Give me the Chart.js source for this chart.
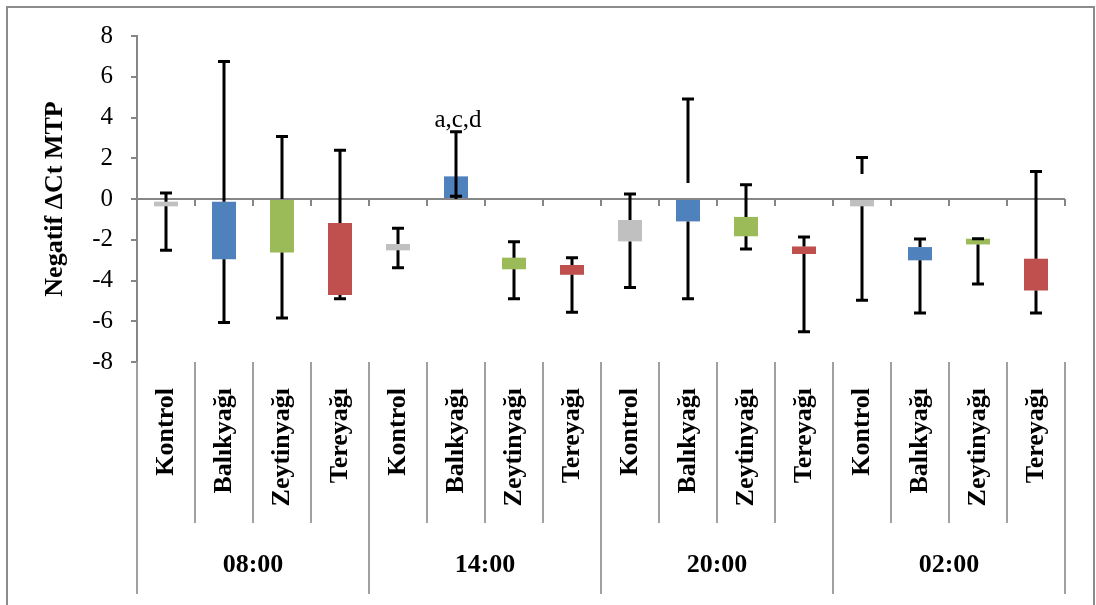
<!DOCTYPE html>
<html>
<head>
<meta charset="utf-8">
<script src="https://cdn.jsdelivr.net/npm/chart.js@4.4.0/dist/chart.umd.min.js"></script>
<style>
html, body { margin: 0; padding: 0; background: #fff; overflow: hidden; }
#wrap { position: relative; width: 1096px; height: 605px; }
#frame { position: absolute; left: 6px; top: 6px; width: 1089px; height: 630px; border: 2px solid #8c8c8c; box-sizing: border-box; }
#c { position: absolute; left: 0; top: 0; }
</style>
</head>
<body>
<div id="wrap">
  <div id="frame"></div>
  <canvas id="c" width="1096" height="605"></canvas>
</div>
<script>
// time points and treatments
var groups = ["08:00", "14:00", "20:00", "02:00"];
var treatments = ["Kontrol", "Balıkyağı", "Zeytinyağı", "Tereyağı"];
var categories = [
	"Kontrol", "Balıkyağı", "Zeytinyağı", "Tereyağı",
	"Kontrol", "Balıkyağı", "Zeytinyağı", "Tereyağı",
	"Kontrol", "Balıkyağı", "Zeytinyağı", "Tereyağı",
	"Kontrol", "Balıkyağı", "Zeytinyağı", "Tereyağı"
];

// box bottom / top
var barLow  = [-0.36, -2.96, -2.62, -4.71,  -2.52, 0.00, -3.45, -3.72,  -2.08, -1.10, -1.83, -2.70,  -0.36, -3.01, -2.23, -4.49];
var barHigh = [-0.13, -0.13,  0.00, -1.18,  -2.21, 1.11, -2.88, -3.24,  -1.03,  0.00, -0.88, -2.33,   0.00, -2.36, -1.95, -2.93];

// whisker ends
var whiskerMax = [0.29, 6.75, 3.07, 2.39,  -1.44, 3.30, -2.10, -2.88,  0.24, 4.91,  0.70, -1.87,  2.04, -1.96, -1.95,  1.35];
var whiskerMin = [-2.52, -6.06, -5.84, -4.89,  -3.37, 0.13, -4.89, -5.56,  -4.34, -4.89, -2.46, -6.51,  -4.97, -5.60, -4.17, -5.60];
// where the upper whisker starts (null = top of the box)
var upperFrom = [null, null, null, null,  null, 0.13, null, null,  null, 0.78, null, null,  1.23, null, null, null];

// significance letters
var letters = ["", "", "", "",  "", "a,c,d", "", "",  "", "", "", "",  "", "", "", ""];

var treatmentColors = ["#c0c0c0", "#4f81bd", "#9bbb59", "#c0504d"];
var axisGray = "#868686";
var serif = "'Liberation Serif', 'Times New Roman', serif";

var boxPlugin = {
	id: "boxPlugin",
	beforeDatasetsDraw: function(chart) {
		var ctx = chart.ctx, x = chart.scales.x, y = chart.scales.y;
		var area = chart.chartArea;
		var y0 = y.getPixelForValue(0);
		var half = (x.getPixelForValue(1) - x.getPixelForValue(0)) / 2;
		ctx.save();
		ctx.strokeStyle = axisGray;
		ctx.lineWidth = 2;
		ctx.beginPath();
		ctx.moveTo(area.left, y0);
		ctx.lineTo(area.right, y0);
		for (var i = 0; i < categories.length; i++) {
			var bx = x.getPixelForValue(i) + half;
			ctx.moveTo(bx, y0);
			ctx.lineTo(bx, y0 + 7);
		}
		ctx.stroke();
		ctx.restore();
	},
	afterDatasetsDraw: function(chart) {
		var ctx = chart.ctx, x = chart.scales.x, y = chart.scales.y;
		ctx.save();
		ctx.strokeStyle = "#000";
		ctx.lineWidth = 3;
		for (var i = 0; i < categories.length; i++) {
			var px = x.getPixelForValue(i);
			var from = upperFrom[i] === null ? barHigh[i] : upperFrom[i];
			var top = y.getPixelForValue(whiskerMax[i]);
			var bot = y.getPixelForValue(whiskerMin[i]);
			ctx.beginPath();
			ctx.moveTo(px, y.getPixelForValue(from));
			ctx.lineTo(px, top);
			ctx.moveTo(px, y.getPixelForValue(barLow[i]));
			ctx.lineTo(px, bot);
			ctx.moveTo(px - 6, top);
			ctx.lineTo(px + 6, top);
			ctx.moveTo(px - 6, bot);
			ctx.lineTo(px + 6, bot);
			ctx.stroke();
			if (letters[i]) {
				ctx.fillStyle = "#000";
				ctx.font = "25px " + serif;
				ctx.textAlign = "center";
				ctx.textBaseline = "alphabetic";
				ctx.fillText(letters[i], px + 2, top - 5);
			}
		}
		ctx.restore();
	},
	afterDraw: function(chart) {
		var ctx = chart.ctx, x = chart.scales.x, x2 = chart.scales.x2;
		var area = chart.chartArea;
		var half = (x.getPixelForValue(1) - x.getPixelForValue(0)) / 2;
		ctx.save();
		ctx.strokeStyle = "#a0a0a0";
		ctx.lineWidth = 2;
		ctx.beginPath();
		for (var i = 0; i <= categories.length; i++) {
			var bx = x.getPixelForValue(i) - half;
			ctx.moveTo(bx, area.bottom);
			ctx.lineTo(bx, i % treatments.length === 0 ? x2.bottom : x.bottom);
		}
		ctx.stroke();
		ctx.restore();
	}
};

new Chart(document.getElementById("c"), {
	type: "bar",
	data: {
		labels: categories,
		datasets: [{
			label: "Negatif ΔCt MTP",
			data: barLow.map(function(v, i) { return [v, barHigh[i]]; }),
			backgroundColor: categories.map(function(c, i) { return treatmentColors[i % 4]; }),
			borderWidth: 0,
			barPercentage: 0.414,
			categoryPercentage: 1
		}]
	},
	options: {
		responsive: false,
		animation: false,
		layout: { padding: { top: 36, right: 31, bottom: 11, left: 0 } },
		plugins: { legend: { display: false }, tooltip: { enabled: false } },
		scales: {
			x: {
				type: "category",
				position: "bottom",
				offset: true,
				grid: { display: false, drawTicks: false, tickLength: 0 },
				border: { display: false },
				ticks: {
					autoSkip: false, minRotation: 90, maxRotation: 90,
					padding: 26, color: "#000",
					font: { family: serif, size: 26, weight: "bold" }
				},
				afterFit: function(s) { s.height = 161; }
			},
			x2: {
				type: "category",
				position: "bottom",
				labels: groups,
				offset: true,
				grid: { display: false, drawTicks: false, tickLength: 0 },
				border: { display: false },
				ticks: {
					maxRotation: 0, padding: 27, color: "#000",
					font: { family: serif, size: 26, weight: "bold" }
				},
				afterFit: function(s) { s.height = 71; }
			},
			y: {
				min: -8, max: 8,
				ticks: { stepSize: 2, padding: 18, color: "#000", font: { family: serif, size: 25 } },
				grid: { drawOnChartArea: false, drawTicks: true, tickLength: 6, color: axisGray, lineWidth: 2 },
				border: { display: true, color: axisGray, width: 2 },
				title: {
					display: true, text: "Negatif ΔCt MTP", color: "#000",
					font: { family: serif, size: 26, weight: "bold" },
					padding: { top: 40, bottom: 0 }
				},
				afterFit: function(s) { s.width = 137; }
			}
		}
	},
	plugins: [boxPlugin]
});
</script>
</body>
</html>
